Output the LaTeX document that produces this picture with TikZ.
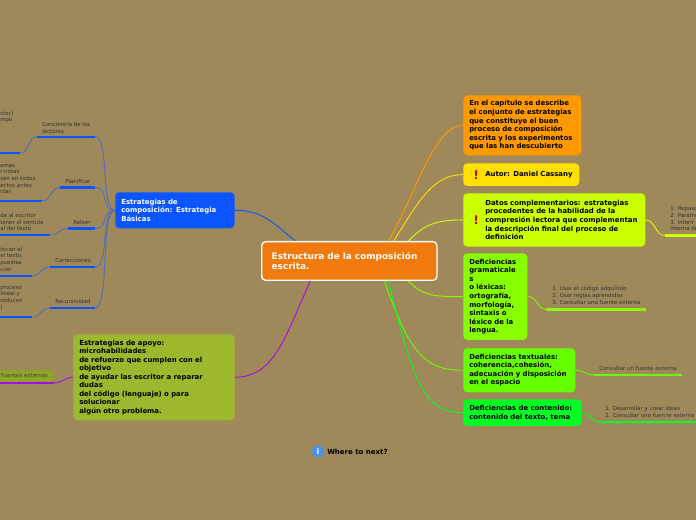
\documentclass[tikz,border=0pt]{standalone}
\usepackage{fontspec}
\setmainfont{DejaVu Sans}
\usetikzlibrary{backgrounds}

\definecolor{bgbrown}{HTML}{9F8859}
\definecolor{mainorange}{HTML}{F07A0E}
\definecolor{stratblue}{HTML}{0A55FF}
\definecolor{linkblue}{HTML}{5070B8}
\definecolor{apoyoolive}{HTML}{9CB82C}
\definecolor{apoyopurple}{HTML}{A010E0}
\definecolor{topicorange}{HTML}{FF9900}
\definecolor{topicyellow}{HTML}{FFE000}
\definecolor{topiclime}{HTML}{CCFF00}
\definecolor{topicgreenA}{HTML}{88FF00}
\definecolor{topicgreenB}{HTML}{66FF00}
\definecolor{topicgreenC}{HTML}{00FF22}
\definecolor{infoblue}{HTML}{4A90F0}

\tikzset{
    topicnode/.style={anchor=north west,rounded corners=3pt,inner xsep=4.5pt,inner ysep=0,align=left,font=\fontsize{5.2}{6.4}\selectfont\bfseries},
    leafnode/.style={anchor=west,inner sep=0,align=left,text=black!80,font=\fontsize{4.1}{5}\selectfont},
    bar/.style={line width=1.8pt},
    link/.style={line width=0.7pt}
}

\begin{document}
\begin{tikzpicture}[x=0.75pt,y=-0.75pt]

\path [use as bounding box,clip] (0,0) rectangle (696,520);

% main topic

\node (main) at (261,241) [topicnode,fill=mainorange,draw=white,line width=1pt,text=white,minimum width=131.5pt,minimum height=29pt,text width=116.5pt,inner xsep=7.5pt,font=\fontsize{6.7}{8.2}\selectfont\bfseries] {Estructura de la composición\\escrita.};

% left topics

\node (basicas) at (115,192) [topicnode,fill=stratblue,text=white,minimum width=89.5pt,minimum height=27pt,text width=80.5pt] {Estrategias de\\composición: Estrategia\\Básicas};

\node (apoyo) at (73,334) [topicnode,fill=apoyoolive,minimum width=121pt,minimum height=64.5pt,text width=112pt] {Estrategias de apoyo:\\microhabilidades\\de refuerzo que cumplen con el\\objetivo\\de ayudar las escritor a reparar\\dudas\\del código (lenguaje) o para\\solucionar\\algún otro problema.};

\node (fuentes) at (-5,370) [topicnode,fill=apoyoolive!90!black,rounded corners=2pt,minimum height=8.5pt,text width=41.5pt,inner xsep=1pt,text=black!75,font=\fontsize{4.1}{5}\selectfont] {\hspace*{3.2pt}Fuentes externas};

% right topics

\node (capitulo) at (463,95) [topicnode,fill=topicorange,minimum width=88.5pt,minimum height=45pt,text width=79.5pt] {En el capítulo se describe\\el conjunto de estrategias\\que constituye el buen\\proceso de composición\\escrita y los experimentos\\que las han descubierto};

\node (autor) at (463,163) [topicnode,fill=topicyellow,minimum width=87pt,minimum height=17pt,text width=78pt] {\hspace*{12pt}Autor: Daniel Cassany};

\node (datos) at (463,193) [topicnode,fill=topiclime,minimum width=136.5pt,minimum height=40pt,text width=127.5pt] {\hspace*{12pt}Datos complementarios: estrategias\\\hspace*{12pt}procedentes de la habilidad de la\\\hspace*{12pt}compresión lectora que complementan\\\hspace*{12pt}la descripción final del proceso de\\\hspace*{12pt}definición};

\node (gramaticales) at (463,253) [topicnode,fill=topicgreenA,minimum width=48pt,minimum height=65pt,text width=39pt] {Deficiencias\\gramaticale\\s\\o léxicas:\\ortografía,\\morfología,\\sintaxis o\\léxico de la\\lengua.};

\node (textuales) at (463,348) [topicnode,fill=topicgreenB,minimum width=84pt,minimum height=33pt,text width=75pt] {Deficiencias textuales:\\coherencia,cohesión,\\adecuación y disposición\\en el espacio};

\node (contenido) at (463,399) [topicnode,fill=topicgreenC,minimum width=88.5pt,minimum height=20pt,text width=79.5pt] {Deficiencias de contenido:\\contenido del texto, tema};

\foreach \name/\y in {alertAutor/175,alertDatos/220}
    \node (\name) at (476,\y) [inner sep=0,text=red!85!black,font=\fontsize{9}{9}\selectfont\bfseries] {!};

% leaf texts

\foreach \name/\x/\y/\leaftext in {
    lConciencia/42/128/{Conciencia de los\\lectores},
    lPlanificar/65/181/{Planificar},
    lReleer/73/222/{Releer},
    lCorrecciones/55/260/{Correcciones},
    lRecursividad/55/301/{Recursividad},
    lLectorA/0/117/{ctor)\\mpo},
    lNotas/0/179/{emas\\r notas\\san en todos\\ectos antes\\ctar},
    lSentido/0/222/{da al escritor\\tener el sentido\\al del texto},
    lTocan/0/259/{tocan el\\el texto,\\puestas\\ción},
    lProceso/0/298/{proceso\\lineal y\\roducen\\)},
    lRepaso/670/219/{1. Repaso\\2. Paráfra\\3. Inferir\\interna de},
    lUsar/552/295.5/{1. Usar el código adquirido\\2. Usar reglas aprendidas\\3. Consultar una fuente externa},
    lConsultar/599/368/{Consultar un fuente ext},
    lConsultarB/664/369/{erna},
    lDesarrollar/605/412/{1. Desarrollar y crear ideas\\2. Consultar una fuen},
    lExterna/666/416/{te externa}}
    \node (\name) at (\x,\y) [leafnode] {\leaftext};

% bars under the leaf texts

\foreach \name/\xa/\xb/\y/\barcolor in {
    bConciencia/37/95/137/stratblue,
    bPlanificar/60/95/187.5/stratblue,
    bReleer/68/95/228.5/stratblue,
    bCorrecciones/50/95/267/stratblue,
    bRecursividad/50/95/308/stratblue,
    bLector/-2/20/153/stratblue,
    bNotas/-2/42/201/stratblue,
    bSentido/-2/50/235/stratblue,
    bTocan/-2/32/276/stratblue,
    bProceso/-2/32/317/stratblue,
    bFuentes/-2/54/383/apoyopurple,
    bRepaso/665/698/235.5/topiclime,
    bUsar/547/646/309.5/topicgreenA,
    bConsultar/594/682/375/topicgreenB,
    bDesarrollar/600/698/422/topicgreenC}
{
    \coordinate (\name L) at (\xa,\y);
    \coordinate (\name R) at (\xb,\y);
    \draw [bar,\barcolor] (\name L) -- (\name R);
}

% where to next

\node (infoIcon) at (318,451.5) [circle,inner sep=0,minimum size=9pt,fill=infoblue,text=white,font=\fontsize{6}{6}\selectfont\bfseries] {i};
\node (whereNext) at (327,451.5) [anchor=west,inner sep=0,font=\fontsize{5.25}{6}\selectfont\bfseries] {Where to next?};

% connectors and background

\begin{scope}[on background layer]
\fill [bgbrown] (-5,-5) rectangle (701,525);

\draw [link,stratblue] (basicas.east) .. controls +(30,0) and +(-20,-15) .. ([xshift=26pt]main.north west);
\draw [link,apoyopurple] (apoyo.east) .. controls +(40,0) and +(-25,55) .. ([xshift=37pt]main.south west);

\draw [link,topicorange] ([xshift=-37pt]main.north east) .. controls +(25,-40) and +(-30,0) .. (capitulo.west);
\draw [link,topicyellow] ([xshift=-33pt]main.north east) .. controls +(25,-40) and +(-30,0) .. (autor.west);
\draw [link,topiclime] ([xshift=-22pt]main.north east) .. controls +(15,-15) and +(-30,0) .. (datos.west);
\draw [link,topicgreenA] ([xshift=-22pt]main.south east) .. controls +(15,15) and +(-30,0) .. (gramaticales.west);
\draw [link,topicgreenB] ([xshift=-40pt]main.south east) .. controls +(25,70) and +(-40,0) .. (textuales.west);
\draw [link,topicgreenC] ([xshift=-37pt]main.south east) .. controls +(25,100) and +(-40,0) .. (contenido.west);

\foreach \name in {bConciencia,bPlanificar,bReleer,bCorrecciones,bRecursividad}
    \draw [link,linkblue] (\name R) .. controls +(15,0) and +(-15,0) .. (basicas.west);

\foreach \from/\to in {bLector/bConciencia,bNotas/bPlanificar,bSentido/bReleer,bTocan/bCorrecciones,bProceso/bRecursividad}
    \draw [link,linkblue] (\from R) .. controls +(10,0) and +(-10,0) .. (\to L);

\draw [link,apoyopurple] (bFuentesR) .. controls +(8,0) and +(-8,0) .. (apoyo.west);
\draw [link,topiclime] (datos.east) .. controls +(10,0) and +(-10,0) .. (bRepasoL);
\draw [link,topicgreenA] (gramaticales.east) .. controls +(10,0) and +(-10,0) .. (bUsarL);
\draw [link,topicgreenB] (textuales.east) .. controls +(10,0) and +(-10,0) .. (bConsultarL);
\draw [link,topicgreenC] (contenido.east) .. controls +(10,0) and +(-10,0) .. (bDesarrollarL);
\end{scope}

\end{tikzpicture}
\end{document}
